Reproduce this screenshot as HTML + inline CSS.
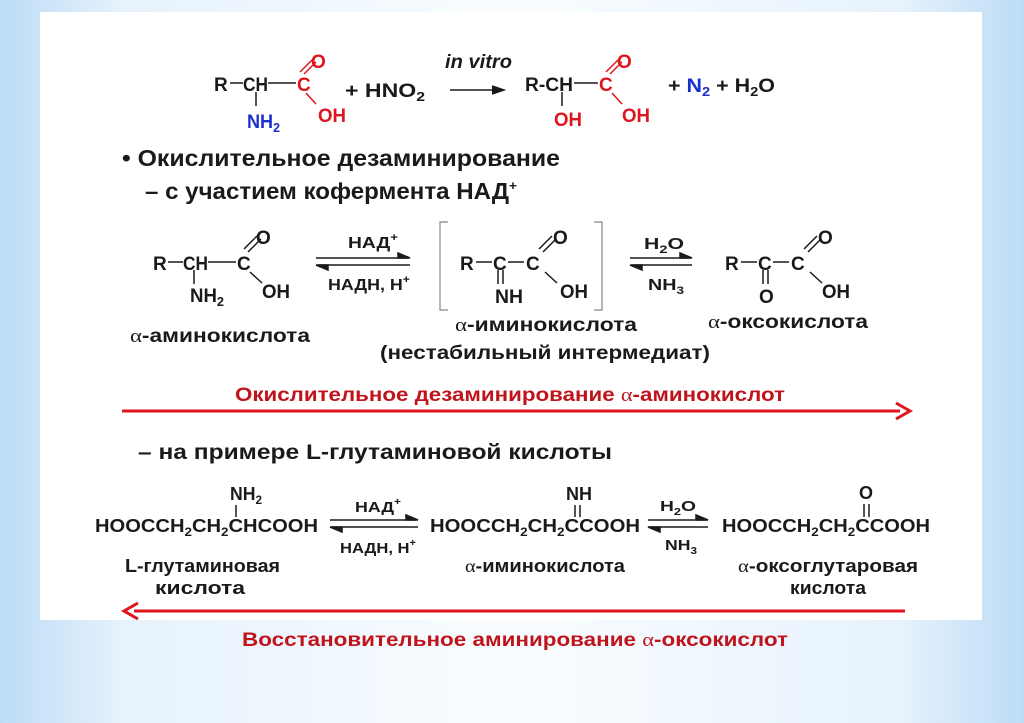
<!DOCTYPE html>
<html><head><meta charset="utf-8"><style>
html,body{margin:0;padding:0}
body{width:1024px;height:723px;overflow:hidden;background:linear-gradient(90deg,#bcdcf6 0%,#e6f2fc 12%,#fafdff 50%,#e6f2fc 88%,#bcdcf6 100%)}
svg{position:absolute;left:0;top:0}
text{font-family:"Liberation Sans",sans-serif;font-weight:bold;fill:#1a1a1a}
.r{fill:#e0141e}.b{fill:#1a2fd0}.dr{fill:#c0141c}
.g{font-family:"Liberation Serif",serif;font-weight:normal}
</style></head><body>
<svg width="1024" height="723" viewBox="0 0 1024 723">
<rect x="40" y="12" width="942" height="608" fill="#fff"/>
<g stroke="#1a1a1a" stroke-width="1.5" fill="none">
<!-- row1 -->
<line x1="230" y1="83" x2="243" y2="83"/><line x1="268" y1="83" x2="296" y2="83"/>
<line x1="256" y1="92" x2="256" y2="106"/>
<line x1="304" y1="74" x2="316" y2="62" stroke="#e0141e"/><line x1="300" y1="72" x2="312" y2="60" stroke="#e0141e"/>
<line x1="306" y1="93" x2="316" y2="104" stroke="#e0141e"/>
<line x1="450" y1="90" x2="500" y2="90"/><path d="M492 86 L504 90 L492 94" fill="#1a1a1a"/>
<line x1="574" y1="83" x2="598" y2="83"/>
<line x1="562" y1="92" x2="562" y2="106"/>
<line x1="610" y1="74" x2="622" y2="62" stroke="#e0141e"/><line x1="606" y1="72" x2="618" y2="60" stroke="#e0141e"/>
<line x1="612" y1="93" x2="622" y2="104" stroke="#e0141e"/>
<!-- row2 -->
<line x1="168" y1="262" x2="183" y2="262"/><line x1="208" y1="262" x2="236" y2="262"/>
<line x1="194" y1="270" x2="194" y2="284"/>
<line x1="248" y1="252" x2="261" y2="239"/><line x1="244" y1="249" x2="257" y2="236"/>
<line x1="250" y1="272" x2="262" y2="283"/>
<line x1="316" y1="258" x2="408" y2="258"/><path d="M398 253 L410 258 L398 258Z" fill="#1a1a1a"/>
<line x1="318" y1="265" x2="410" y2="265"/><path d="M328 270 L316 265 L328 265Z" fill="#1a1a1a"/>
<path d="M448 222 L440 222 L440 310 L448 310" stroke="#888" stroke-width="1.2"/>
<path d="M594 222 L602 222 L602 310 L594 310" stroke="#888" stroke-width="1.2"/>
<line x1="476" y1="262" x2="492" y2="262"/><line x1="508" y1="262" x2="524" y2="262"/>
<line x1="498" y1="270" x2="498" y2="284"/><line x1="503" y1="270" x2="503" y2="284"/>
<line x1="543" y1="252" x2="556" y2="239"/><line x1="539" y1="249" x2="552" y2="236"/>
<line x1="545" y1="272" x2="557" y2="283"/>
<line x1="630" y1="258" x2="690" y2="258"/><path d="M680 253 L692 258 L680 258Z" fill="#1a1a1a"/>
<line x1="632" y1="265" x2="692" y2="265"/><path d="M642 270 L630 265 L642 265Z" fill="#1a1a1a"/>
<line x1="741" y1="262" x2="757" y2="262"/><line x1="773" y1="262" x2="789" y2="262"/>
<line x1="763" y1="270" x2="763" y2="284"/><line x1="768" y1="270" x2="768" y2="284"/>
<line x1="808" y1="252" x2="821" y2="239"/><line x1="804" y1="249" x2="817" y2="236"/>
<line x1="810" y1="272" x2="822" y2="283"/>
<!-- row3 -->
<line x1="236" y1="505" x2="236" y2="517"/>
<line x1="330" y1="520" x2="416" y2="520"/><path d="M406 515 L418 520 L406 520Z" fill="#1a1a1a"/>
<line x1="332" y1="527" x2="418" y2="527"/><path d="M342 532 L330 527 L342 527Z" fill="#1a1a1a"/>
<line x1="575" y1="505" x2="575" y2="517"/><line x1="580" y1="505" x2="580" y2="517"/>
<line x1="648" y1="520" x2="706" y2="520"/><path d="M696 515 L708 520 L696 520Z" fill="#1a1a1a"/>
<line x1="650" y1="527" x2="708" y2="527"/><path d="M660 532 L648 527 L660 527Z" fill="#1a1a1a"/>
<line x1="864" y1="504" x2="864" y2="517"/><line x1="869" y1="504" x2="869" y2="517"/>
</g>
<line x1="122" y1="411" x2="900" y2="411" stroke="#e0141e" stroke-width="3"/>
<path d="M896 403 L910 411 L896 419" stroke="#e0141e" stroke-width="3" fill="none"/>
<line x1="134" y1="611" x2="905" y2="611" stroke="#e0141e" stroke-width="3"/>
<path d="M138 603 L124 611 L138 619" stroke="#e0141e" stroke-width="3" fill="none"/>

<g font-size="19" lengthAdjust="spacingAndGlyphs">
<text x="214" y="91">R</text><text x="243" y="91" textLength="25" lengthAdjust="spacingAndGlyphs">CH</text><text x="297" y="91" class="r">C</text>
<text x="311" y="68" class="r">O</text><text x="318" y="122" class="r" textLength="28" lengthAdjust="spacingAndGlyphs">OH</text>
<text x="247" y="128" class="b" textLength="33" lengthAdjust="spacingAndGlyphs">NH<tspan font-size="13" dy="4">2</tspan></text>
<text x="345" y="97" textLength="80" lengthAdjust="spacingAndGlyphs">+ HNO<tspan font-size="13" dy="4">2</tspan></text>
<text x="445" y="68" font-style="italic" textLength="67" lengthAdjust="spacingAndGlyphs">in vitro</text>
<text x="525" y="91" textLength="48" lengthAdjust="spacingAndGlyphs">R-CH</text><text x="599" y="91" class="r">C</text>
<text x="617" y="68" class="r">O</text><text x="622" y="122" class="r" textLength="28" lengthAdjust="spacingAndGlyphs">OH</text>
<text x="554" y="126" class="r" textLength="28" lengthAdjust="spacingAndGlyphs">OH</text>
<text x="668" y="92" textLength="107" lengthAdjust="spacingAndGlyphs">+ <tspan class="b">N<tspan font-size="13" dy="4">2</tspan></tspan><tspan dy="-4"> + H</tspan><tspan font-size="13" dy="4">2</tspan><tspan dy="-4">O</tspan></text>
</g>
<text x="122" y="166" font-size="23" textLength="438" lengthAdjust="spacingAndGlyphs">• Окислительное дезаминирование</text>
<text x="145" y="199" font-size="23" textLength="372" lengthAdjust="spacingAndGlyphs">– с участием кофермента НАД<tspan font-size="13" dy="-9">+</tspan></text>

<g font-size="19">
<text x="153" y="270">R</text><text x="183" y="270" textLength="25" lengthAdjust="spacingAndGlyphs">CH</text><text x="237" y="270">C</text>
<text x="256" y="244">O</text><text x="262" y="298" textLength="28" lengthAdjust="spacingAndGlyphs">OH</text>
<text x="190" y="302" textLength="34" lengthAdjust="spacingAndGlyphs">NH<tspan font-size="13" dy="4">2</tspan></text>
<text x="348" y="248" font-size="16" textLength="50" lengthAdjust="spacingAndGlyphs">НАД<tspan font-size="11" dy="-7">+</tspan></text>
<text x="328" y="290" font-size="16" textLength="82" lengthAdjust="spacingAndGlyphs">НАДН, Н<tspan font-size="11" dy="-7">+</tspan></text>
<text x="460" y="270">R</text><text x="493" y="270">C</text><text x="526" y="270">C</text>
<text x="553" y="244">O</text><text x="560" y="298" textLength="28" lengthAdjust="spacingAndGlyphs">OH</text><text x="495" y="303" textLength="28" lengthAdjust="spacingAndGlyphs">NH</text>
<text x="644" y="249" font-size="16" textLength="40" lengthAdjust="spacingAndGlyphs">H<tspan font-size="11" dy="4">2</tspan><tspan dy="-4">O</tspan></text>
<text x="648" y="290" font-size="16" textLength="36" lengthAdjust="spacingAndGlyphs">NH<tspan font-size="11" dy="4">3</tspan></text>
<text x="725" y="270">R</text><text x="758" y="270">C</text><text x="791" y="270">C</text>
<text x="818" y="244">O</text><text x="822" y="298" textLength="28" lengthAdjust="spacingAndGlyphs">OH</text><text x="759" y="303">O</text>

<text x="130" y="342" textLength="180" lengthAdjust="spacingAndGlyphs"><tspan class="g">α</tspan>-аминокислота</text>
<text x="455" y="331" textLength="182" lengthAdjust="spacingAndGlyphs"><tspan class="g">α</tspan>-иминокислота</text>
<text x="380" y="359" textLength="330" lengthAdjust="spacingAndGlyphs">(нестабильный интермедиат)</text>
<text x="708" y="328" textLength="160" lengthAdjust="spacingAndGlyphs"><tspan class="g">α</tspan>-оксокислота</text>
<text x="235" y="401" class="dr" textLength="550" lengthAdjust="spacingAndGlyphs">Окислительное  дезаминирование <tspan class="g">α</tspan>-аминокислот</text>
</g>
<text x="138" y="459" font-size="21" textLength="474" lengthAdjust="spacingAndGlyphs">– на примере L-глутаминовой кислоты</text>

<g font-size="18">
<text x="95" y="532" textLength="223" lengthAdjust="spacingAndGlyphs">HOOCCH<tspan font-size="12" dy="4">2</tspan><tspan dy="-4">CH</tspan><tspan font-size="12" dy="4">2</tspan><tspan dy="-4">CHCOOH</tspan></text>
<text x="230" y="500" textLength="32" lengthAdjust="spacingAndGlyphs">NH<tspan font-size="12" dy="4">2</tspan></text>
<text x="355" y="512" font-size="15" textLength="46" lengthAdjust="spacingAndGlyphs">НАД<tspan font-size="10" dy="-7">+</tspan></text>
<text x="340" y="553" font-size="15" textLength="76" lengthAdjust="spacingAndGlyphs">НАДН, Н<tspan font-size="10" dy="-7">+</tspan></text>
<text x="430" y="532" textLength="210" lengthAdjust="spacingAndGlyphs">HOOCCH<tspan font-size="12" dy="4">2</tspan><tspan dy="-4">CH</tspan><tspan font-size="12" dy="4">2</tspan><tspan dy="-4">CCOOH</tspan></text>
<text x="566" y="500" textLength="26" lengthAdjust="spacingAndGlyphs">NH</text>
<text x="660" y="511" font-size="15" textLength="36" lengthAdjust="spacingAndGlyphs">H<tspan font-size="10" dy="4">2</tspan><tspan dy="-4">O</tspan></text>
<text x="665" y="550" font-size="15" textLength="32" lengthAdjust="spacingAndGlyphs">NH<tspan font-size="10" dy="4">3</tspan></text>
<text x="722" y="532" textLength="208" lengthAdjust="spacingAndGlyphs">HOOCCH<tspan font-size="12" dy="4">2</tspan><tspan dy="-4">CH</tspan><tspan font-size="12" dy="4">2</tspan><tspan dy="-4">CCOOH</tspan></text>
<text x="859" y="499">O</text>
<text x="125" y="572" textLength="155" lengthAdjust="spacingAndGlyphs">L-глутаминовая</text>
<text x="155" y="594" textLength="90" lengthAdjust="spacingAndGlyphs">кислота</text>
<text x="465" y="572" textLength="160" lengthAdjust="spacingAndGlyphs"><tspan class="g">α</tspan>-иминокислота</text>
<text x="738" y="572" textLength="180" lengthAdjust="spacingAndGlyphs"><tspan class="g">α</tspan>-оксоглутаровая</text>
<text x="790" y="594" textLength="76" lengthAdjust="spacingAndGlyphs">кислота</text>
</g>
<text x="242" y="646" font-size="19" class="dr" textLength="546" lengthAdjust="spacingAndGlyphs">Восстановительное  аминирование <tspan class="g">α</tspan>-оксокислот</text>
</svg>
</body></html>
